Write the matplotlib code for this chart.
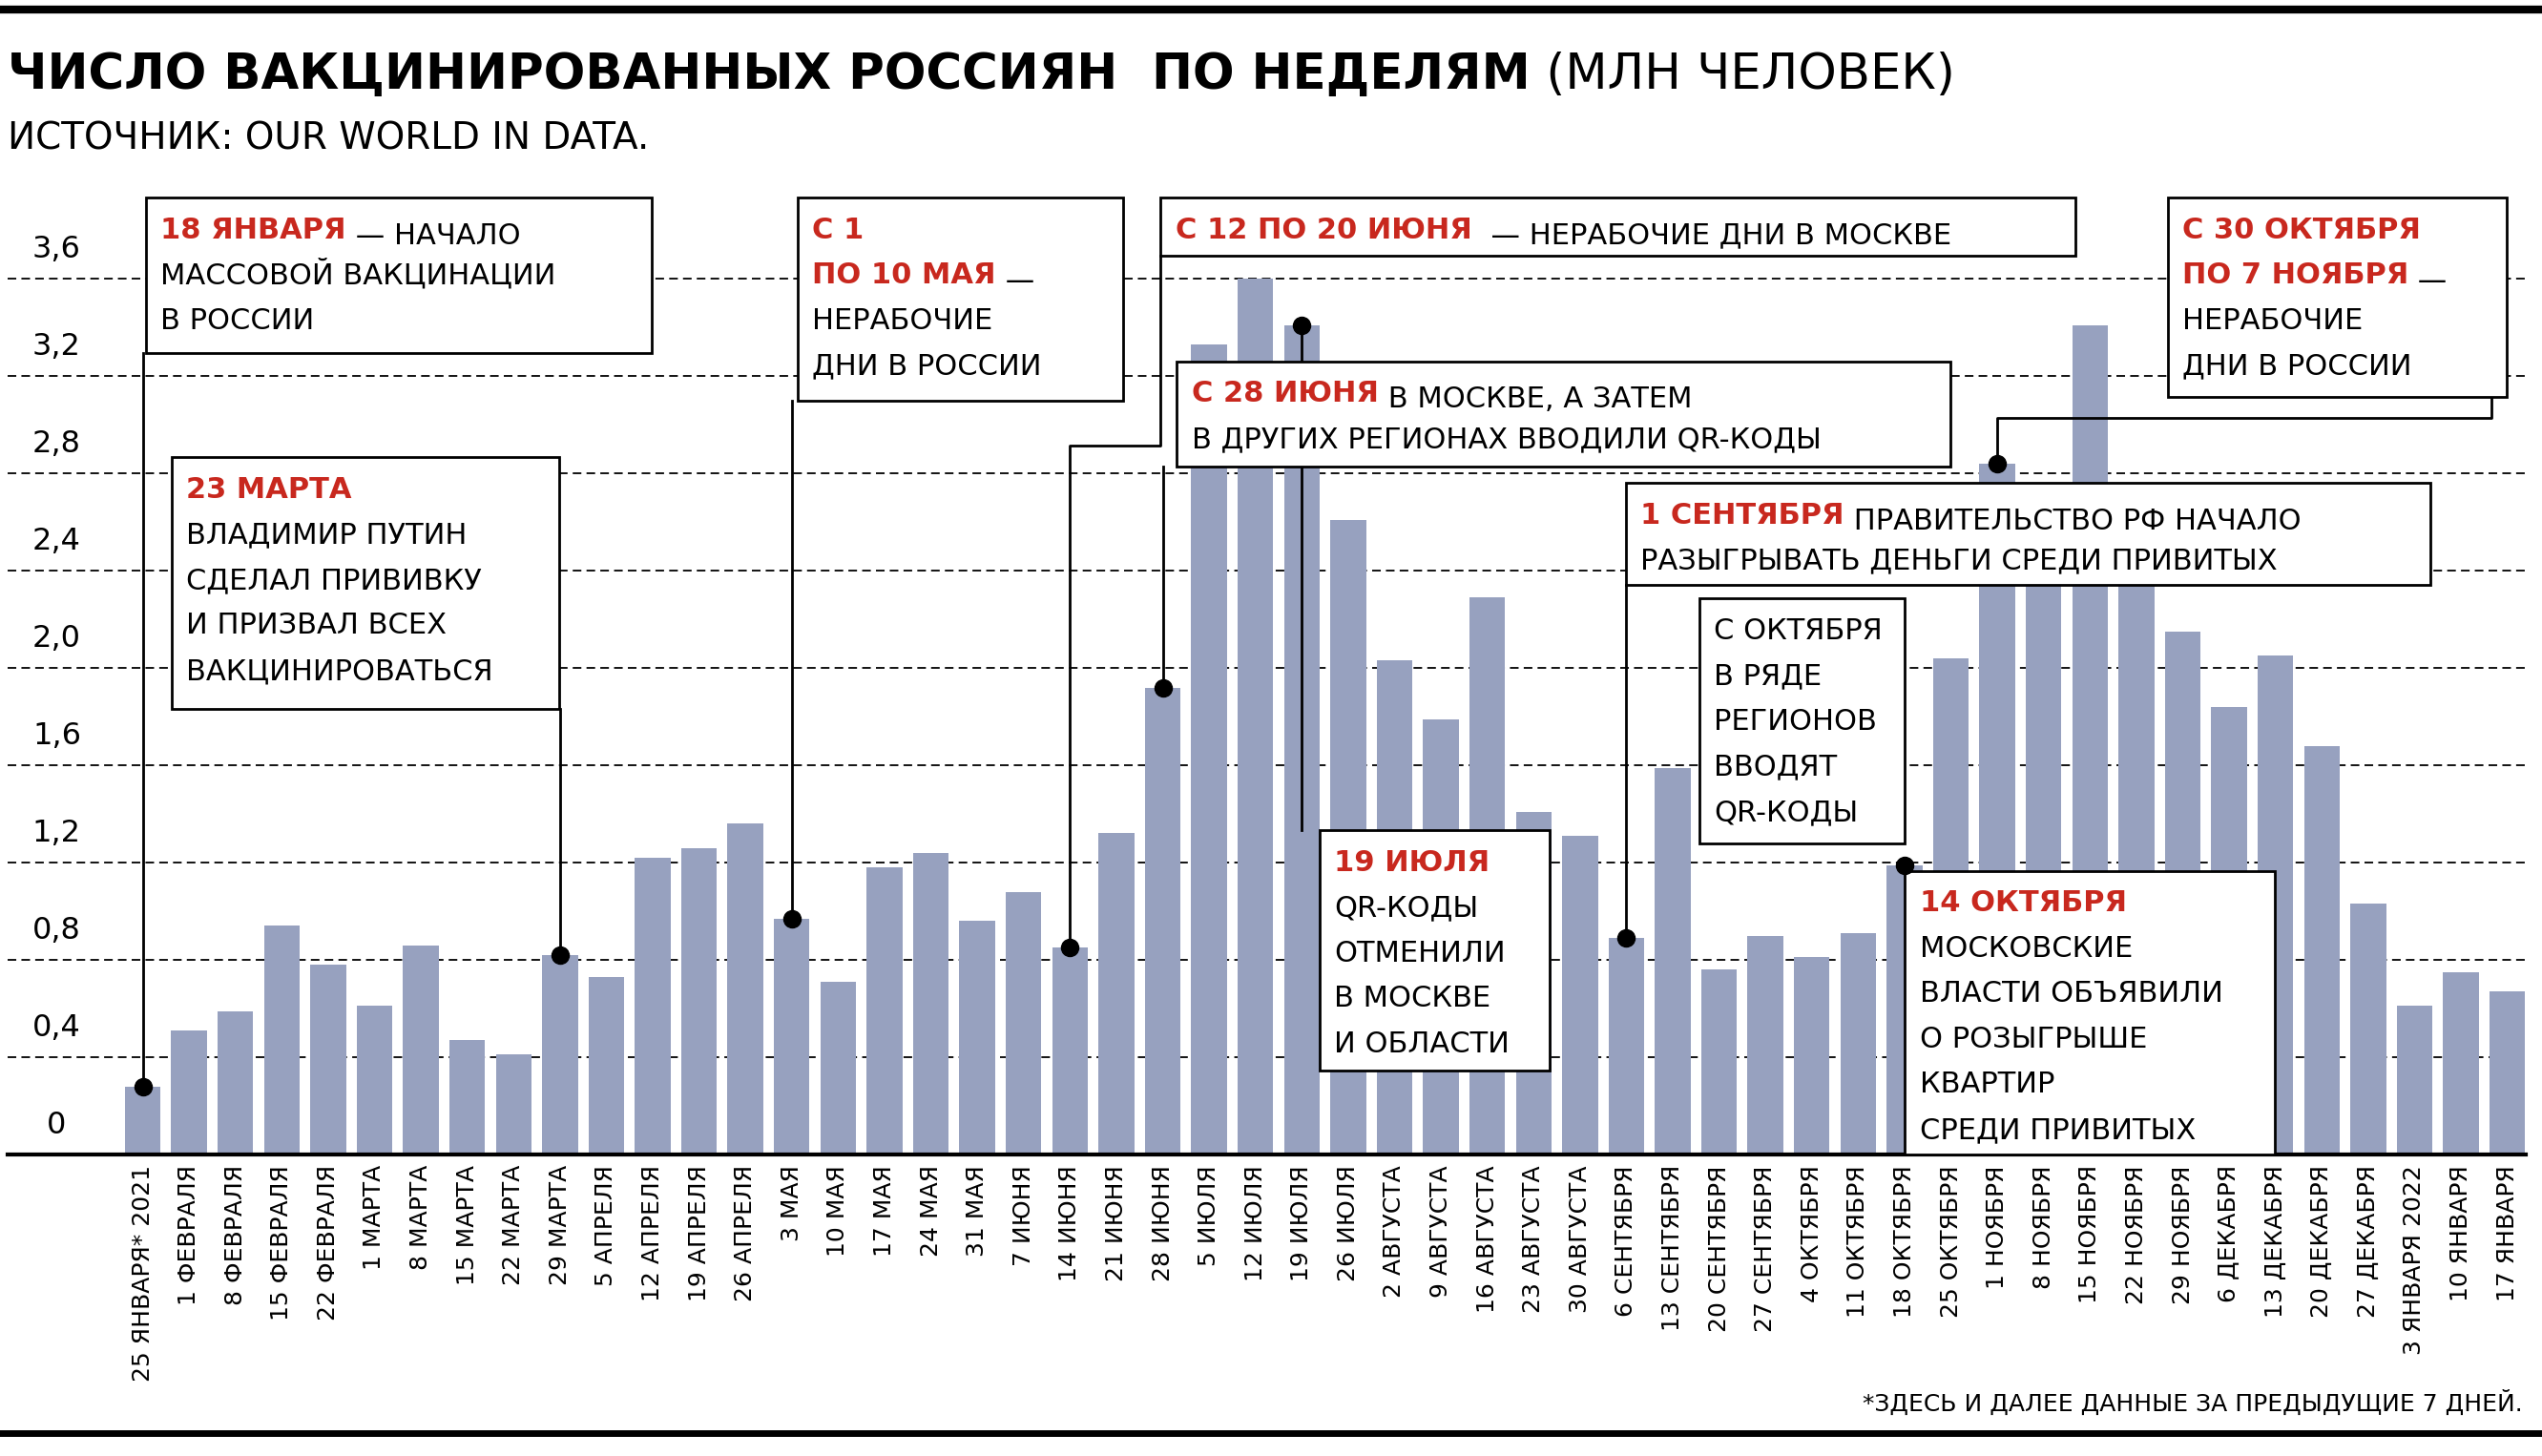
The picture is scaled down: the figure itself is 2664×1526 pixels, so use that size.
import matplotlib.pyplot as plt
from matplotlib.patches import Rectangle

plt.rcParams['font.family'] = ['DejaVu Sans']

# weekly vaccinated, millions
weeks = [
    "25 ЯНВАРЯ* 2021", "1 ФЕВРАЛЯ", "8 ФЕВРАЛЯ", "15 ФЕВРАЛЯ", "22 ФЕВРАЛЯ",
    "1 МАРТА", "8 МАРТА", "15 МАРТА", "22 МАРТА", "29 МАРТА", "5 АПРЕЛЯ",
    "12 АПРЕЛЯ", "19 АПРЕЛЯ", "26 АПРЕЛЯ", "3 МАЯ", "10 МАЯ", "17 МАЯ",
    "24 МАЯ", "31 МАЯ", "7 ИЮНЯ", "14 ИЮНЯ", "21 ИЮНЯ", "28 ИЮНЯ",
    "5 ИЮЛЯ", "12 ИЮЛЯ", "19 ИЮЛЯ", "26 ИЮЛЯ", "2 АВГУСТА", "9 АВГУСТА",
    "16 АВГУСТА", "23 АВГУСТА", "30 АВГУСТА", "6 СЕНТЯБРЯ", "13 СЕНТЯБРЯ",
    "20 СЕНТЯБРЯ", "27 СЕНТЯБРЯ", "4 ОКТЯБРЯ", "11 ОКТЯБРЯ", "18 ОКТЯБРЯ",
    "25 ОКТЯБРЯ", "1 НОЯБРЯ", "8 НОЯБРЯ", "15 НОЯБРЯ", "22 НОЯБРЯ",
    "29 НОЯБРЯ", "6 ДЕКАБРЯ", "13 ДЕКАБРЯ", "20 ДЕКАБРЯ", "27 ДЕКАБРЯ",
    "3 ЯНВАРЯ 2022", "10 ЯНВАРЯ", "17 ЯНВАРЯ",
]
values = [
    0.28, 0.51, 0.59, 0.94, 0.78, 0.61, 0.86, 0.47, 0.41, 0.82, 0.73,
    1.22, 1.26, 1.36, 0.97, 0.71, 1.18, 1.24, 0.96, 1.08, 0.85, 1.32, 1.92,
    3.33, 3.60, 3.41, 2.61, 2.03, 1.79, 2.29, 1.41, 1.31, 0.89, 1.59,
    0.76, 0.90, 0.81, 0.91, 1.19, 2.04, 2.84, 2.60, 3.41, 2.50,
    2.15, 1.84, 2.05, 1.68, 1.03, 0.61, 0.75, 0.67,
]
yticks = [0, 0.4, 0.8, 1.2, 1.6, 2.0, 2.4, 2.8, 3.2, 3.6]
ytick_labels = ["0", "0,4", "0,8", "1,2", "1,6", "2,0", "2,4", "2,8", "3,2", "3,6"]

BAR = "#97a1bf"
RED = "#c8281e"
W, H = 1568, 898  # layout units of the reference


def dx(px):
    return (px - 88) / 28.6


def dy(py):
    return (712 - py) / 150


fig = plt.figure(figsize=(26.64, 15.26), dpi=100)
ax = fig.add_axes([5 / W, 1 - 712 / H, 1553 / W, 600 / H])
ax.set_xlim(dx(5), dx(1558))
ax.set_ylim(0, 4.0)

for y in yticks[1:]:
    ax.axhline(y, color="black", lw=1.3, ls=(0, (5, 3)), zorder=0)
ax.bar(range(len(values)), values, width=0.77, color=BAR, zorder=1)

for y, lab in zip(yticks, ytick_labels):
    ax.text(dx(35), y + 0.06, lab, ha="center", va="bottom", fontsize=23)

ax.set_xticks(range(len(weeks)))
ax.set_xticklabels(weeks, rotation=90, fontsize=18, va="top", ha="center")
ax.tick_params(axis="x", length=0, pad=8)
ax.set_yticks([])
for s in ["top", "right", "left"]:
    ax.spines[s].set_visible(False)
ax.spines["bottom"].set_linewidth(3)

# annotation boxes: (x0, y0, x1, y1, lines); each line = list of (text, red?)
boxes = [
    (90, 122, 402, 218, [[("18 ЯНВАРЯ", 1), (" — НАЧАЛО", 0)],
                         [("МАССОВОЙ ВАКЦИНАЦИИ", 0)], [("В РОССИИ", 0)]]),
    (106, 282, 345, 437, [[("23 МАРТА", 1)], [("ВЛАДИМИР ПУТИН", 0)],
                          [("СДЕЛАЛ ПРИВИВКУ", 0)], [("И ПРИЗВАЛ ВСЕХ", 0)],
                          [("ВАКЦИНИРОВАТЬСЯ", 0)]]),
    (492, 122, 693, 247, [[("С 1", 1)], [("ПО 10 МАЯ", 1), (" —", 0)],
                          [("НЕРАБОЧИЕ", 0)], [("ДНИ В РОССИИ", 0)]]),
    (716, 122, 1280, 158, [[("С 12 ПО 20 ИЮНЯ", 1), ("  — НЕРАБОЧИЕ ДНИ В МОСКВЕ", 0)]]),
    (726, 223, 1203, 288, [[("С 28 ИЮНЯ", 1), (" В МОСКВЕ, А ЗАТЕМ", 0)],
                           [("В ДРУГИХ РЕГИОНАХ ВВОДИЛИ QR-КОДЫ", 0)]]),
    (1337, 122, 1546, 245, [[("С 30 ОКТЯБРЯ", 1)], [("ПО 7 НОЯБРЯ", 1), (" —", 0)],
                            [("НЕРАБОЧИЕ", 0)], [("ДНИ В РОССИИ", 0)]]),
    (1003, 298, 1499, 361, [[("1 СЕНТЯБРЯ", 1), (" ПРАВИТЕЛЬСТВО РФ НАЧАЛО", 0)],
                            [("РАЗЫГРЫВАТЬ ДЕНЬГИ СРЕДИ ПРИВИТЫХ", 0)]]),
    (1048, 369, 1175, 520, [[("С ОКТЯБРЯ", 0)], [("В РЯДЕ", 0)], [("РЕГИОНОВ", 0)],
                            [("ВВОДЯТ", 0)], [("QR-КОДЫ", 0)]]),
    (814, 512, 956, 660, [[("19 ИЮЛЯ", 1)], [("QR-КОДЫ", 0)], [("ОТМЕНИЛИ", 0)],
                          [("В МОСКВЕ", 0)], [("И ОБЛАСТИ", 0)]]),
    (1175, 537, 1403, 712, [[("14 ОКТЯБРЯ", 1)], [("МОСКОВСКИЕ", 0)],
                            [("ВЛАСТИ ОБЪЯВИЛИ", 0)], [("О РОЗЫГРЫШЕ", 0)],
                            [("КВАРТИР", 0)], [("СРЕДИ ПРИВИТЫХ", 0)]]),
]

# connector paths from each marked bar top (layout units after first vertical leg)
connectors = [
    (0, [(88, 218)]),
    (9, [(345, 437)]),
    (14, [(490, 247)]),
    (20, [(672, 275), (716, 275), (716, 158)]),
    (22, [(726, 288)]),
    (25, [(812, 512)]),
    (32, [(1003, 361)]),
    (38, [(1175, 537)]),
    (40, [(1230, 258), (1537, 258), (1537, 245)]),
]
for i, path in connectors:
    pts_x, pts_y = [i], [values[i]]
    for px, py in path:
        pts_x.append(dx(px))
        pts_y.append(dy(py))
    pts_x[1] = i  # first leg is vertical
    ax.plot(pts_x, pts_y, color="black", lw=2, zorder=3, clip_on=False)
    ax.plot(i, values[i], "o", color="black", ms=13, zorder=6)

for x0, y0, x1, y1, lines in boxes:
    ax.add_patch(Rectangle((dx(x0), dy(y1)), dx(x1) - dx(x0), dy(y0) - dy(y1),
                           facecolor="white", edgecolor="black", lw=2,
                           zorder=4, clip_on=False))
    for k, parts in enumerate(lines):
        base = y0 + 25 + 28 * k
        prev = None
        for txt, red in parts:
            kw = dict(fontsize=22, color=RED if red else "black",
                      fontweight="bold" if red else "normal", zorder=5,
                      va="baseline")
            if prev is None:
                prev = ax.text(dx(x0 + 9), dy(base), txt, ha="left", **kw)
            else:
                prev = ax.annotate(txt, xy=(1, 0), xycoords=prev, ha="left",
                                   **kw)

# header and footer
fig.add_artist(plt.Line2D([0, 1], [1 - 6 / H] * 2, color="black", lw=6))
fig.add_artist(plt.Line2D([0, 1], [1 - 884 / H] * 2, color="black", lw=5))
t = fig.text(5 / W, 1 - 55 / H, "ЧИСЛО ВАКЦИНИРОВАННЫХ РОССИЯН  ПО НЕДЕЛЯМ",
             fontsize=37, fontweight="bold", va="baseline")
ax.annotate(" (МЛН ЧЕЛОВЕК)", xy=(1, 0), xycoords=t, fontsize=37,
            va="bottom", ha="left", annotation_clip=False)
fig.text(5 / W, 1 - 92 / H, "ИСТОЧНИК: OUR WORLD IN DATA.", fontsize=28,
         va="baseline")
fig.text(1556 / W, 1 - 870 / H, "*ЗДЕСЬ И ДАЛЕЕ ДАННЫЕ ЗА ПРЕДЫДУЩИЕ 7 ДНЕЙ.",
         fontsize=18, ha="right", va="baseline")

fig.savefig("out.png", dpi=100)
